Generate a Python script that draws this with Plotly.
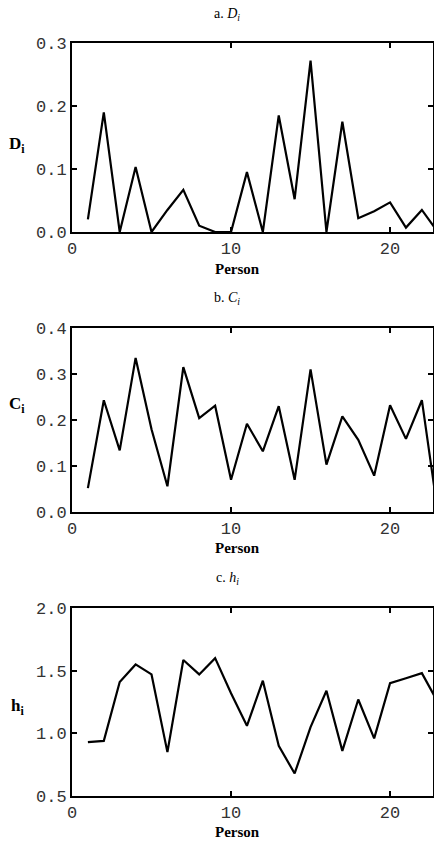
import plotly.graph_objects as go

persons = list(range(1, 24))
D_vals = [0.02, 0.19, 0.0, 0.103, 0.0, 0.035, 0.067, 0.01, 0.0, 0.0, 0.095, 0.0,
          0.185, 0.052, 0.272, 0.0, 0.175, 0.022, 0.033, 0.047, 0.007, 0.035, 0.0]
C_vals = [0.052, 0.243, 0.134, 0.335, 0.18, 0.056, 0.315, 0.204, 0.231, 0.07, 0.192, 0.132,
          0.23, 0.07, 0.31, 0.103, 0.208, 0.157, 0.079, 0.232, 0.159, 0.243, 0.0]
h_vals = [0.93, 0.94, 1.41, 1.55, 1.47, 0.85, 1.585, 1.47, 1.60, 1.32, 1.06, 1.42,
          0.90, 0.68, 1.05, 1.34, 0.86, 1.27, 0.96, 1.40, 1.44, 1.48, 1.25]

panel_titles = ["a. <i>D<sub>i</sub></i>", "b. <i>C<sub>i</sub></i>", "c. <i>h<sub>i</sub></i>"]
y_titles = ["<b>D<sub>i</sub></b>", "<b>C<sub>i</sub></b>", "<b>h<sub>i</sub></b>"]
x_title = "Person"
x_ticks = [0, 10, 20]
y_ranges = [[0, 0.3], [0, 0.4], [0.5, 2.0]]
y_dticks = [0.1, 0.1, 0.5]

W, H = 434, 842
# pixel layout of panels (top, bottom)
panels_px = [(43, 232), (328, 512), (608, 796)]
title_px = [15, 298, 578]
ytitle_px = [145, 405, 707]
xtitle_px = [269, 548, 832]
x_left, x_right = 72, 433


def py(p):
    return 1 - p / H


fig = go.Figure()
series = [D_vals, C_vals, h_vals]
annotations = []
for i, vals in enumerate(series):
    n = "" if i == 0 else str(i + 1)
    fig.add_trace(go.Scatter(x=persons, y=vals, mode="lines",
                             line=dict(color="black", width=2.2),
                             xaxis="x" + n, yaxis="y" + n, showlegend=False,
                             cliponaxis=True))
    top, bot = panels_px[i]
    fig.update_layout(**{
        "xaxis" + n: dict(domain=[x_left / W, x_right / W], range=[0, 22.7],
                          anchor="y" + n, tickvals=x_ticks, ticks="inside", ticklen=5,
                          tickwidth=2, tickcolor="black", automargin=False,
                          showline=True, linecolor="black", linewidth=2, mirror="ticks",
                          showgrid=False, zeroline=False,
                          tickfont=dict(family="Liberation Mono", size=17, color="#333")),
        "yaxis" + n: dict(domain=[py(bot), py(top)], range=y_ranges[i],
                          anchor="x" + n, dtick=y_dticks[i], tick0=y_ranges[i][0],
                          tickformat=".1f", ticks="inside", ticklen=5, tickwidth=2,
                          tickcolor="black", automargin=False,
                          showline=True, linecolor="black", linewidth=2, mirror="ticks",
                          showgrid=False, zeroline=False,
                          tickfont=dict(family="Liberation Mono", size=17, color="#333")),
    })
    annotations.append(dict(text=panel_titles[i], x=227 / W, y=py(title_px[i]),
                            xref="paper", yref="paper", showarrow=False,
                            xanchor="center", yanchor="middle",
                            font=dict(family="Liberation Serif", size=14, color="black")))
    annotations.append(dict(text=y_titles[i], x=17 / W, y=py(ytitle_px[i]),
                            xref="paper", yref="paper", showarrow=False,
                            xanchor="center", yanchor="middle",
                            font=dict(family="Liberation Serif", size=17, color="black")))
    annotations.append(dict(text="<b>" + x_title + "</b>", x=238 / W, y=py(xtitle_px[i]),
                            xref="paper", yref="paper", showarrow=False,
                            xanchor="center", yanchor="middle",
                            font=dict(family="Liberation Serif", size=15, color="black")))

fig.update_layout(width=W, height=H, margin=dict(l=0, r=0, t=0, b=0, pad=0),
                  paper_bgcolor="white", plot_bgcolor="white",
                  annotations=annotations)
fig.write_html("out.html",
               config={"displayModeBar": False, "responsive": False},
               post_script=("document.documentElement.style.margin='0';"
                            "document.documentElement.style.padding='0';"
                            "document.documentElement.style.overflow='hidden';"
                            "document.body.style.margin='0';"
                            "document.body.style.padding='0';"
                            "document.body.style.overflow='hidden';"))
